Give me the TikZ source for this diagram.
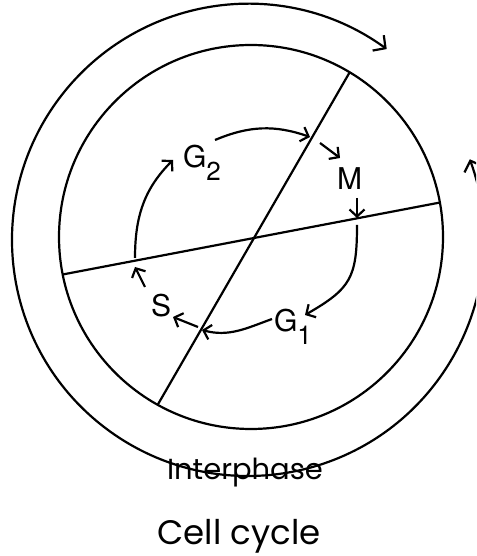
\documentclass[tikz,border=0pt]{standalone}
\usepackage{fontspec}
\setmainfont{TeX Gyre Heros}
\newfontfamily\roundfont{Poppins}
\usetikzlibrary{arrows.meta,calc}
\newcommand{\subidx}[1]{\raisebox{-13pt}{\fontsize{26}{26}\selectfont #1}}

\begin{document}
\begin{tikzpicture}[
    x=1pt, y=1pt,
    line width=2.2pt,
    phase/.style={inner sep=0pt, anchor=base west, font=\fontsize{30}{30}\selectfont},
    caption/.style={inner sep=0pt, anchor=base, font=\roundfont\fontsize{34}{34}\selectfont},
    arrow/.style={-{Straight Barb[length=7pt,width=15pt]}},
    ring/.style={{Straight Barb[length=9pt,width=19pt]}-{Straight Barb[length=9pt,width=19pt]}}
]
    \useasboundingbox (0,0) rectangle (476,556);
    \clip (0,0) rectangle (476,556);

    % cell and the two dividing lines
    \coordinate (o) at (251,319);
    \coordinate (mid) at (254,318);
    \draw (o) circle (192);
    \begin{scope}
        \clip (o) circle (192);
        \draw ($(mid)+(60:220)$) -- ($(mid)+(240:220)$);
        \draw ($(mid)+(10.8:220)$) -- ($(mid)+(190.8:220)$);
    \end{scope}

    % outer cycle arrow
    \coordinate (c) at (248,316);
    \draw[ring] ($(c)+(54:236)$) arc[start angle=54, end angle=380, radius=236];

    % phases
    \node[phase] (g2) at (182,388) {G\subidx{2}};
    \node[phase] (m) at (336,366) {M};
    \node[phase] (g1) at (273,224) {G\subidx{1}};
    \node[phase] (s) at (150,239) {S};

    % ends on the lines
    \coordinate (l1) at (310,419);
    \coordinate (l2) at (320,413);
    \coordinate (l3) at (357,338);
    \coordinate (l4) at (357,331);
    \coordinate (l5) at (202,226);
    \coordinate (l6) at (198,229);
    \coordinate (l7) at (135,289);
    \coordinate (l8) at (135,298);

    \draw[arrow] ([shift={(33,28)}]g2.base west) to[bend left=21] (l1);
    \draw[arrow] (l2) -- ([shift={(4,32)}]m.base west);
    \draw[arrow] ([shift={(21,-8)}]m.base west) -- (l3);
    \draw[arrow] (l4) to[out=-90, in=30, looseness=1.3] ([shift={(32,17)}]g1.base west);
    \draw[arrow] ([shift={(-1,13)}]g1.base west) to[out=200, in=-15] (l5);
    \draw[arrow] (l6) -- ([shift={(23,0)}]s.base west);
    \draw[arrow] ([shift={(-5,30)}]s.base west) -- (l7);
    \draw[arrow] (l8) to[out=90, in=-135] ([shift={(-9,8)}]g2.base west);

    \node[caption, font=\roundfont\fontsize{29}{29}\selectfont] (inter) at (245,76) {Interphase};
    \node[caption] (title) at (239,11) {Cell cycle};
\end{tikzpicture}
\end{document}
